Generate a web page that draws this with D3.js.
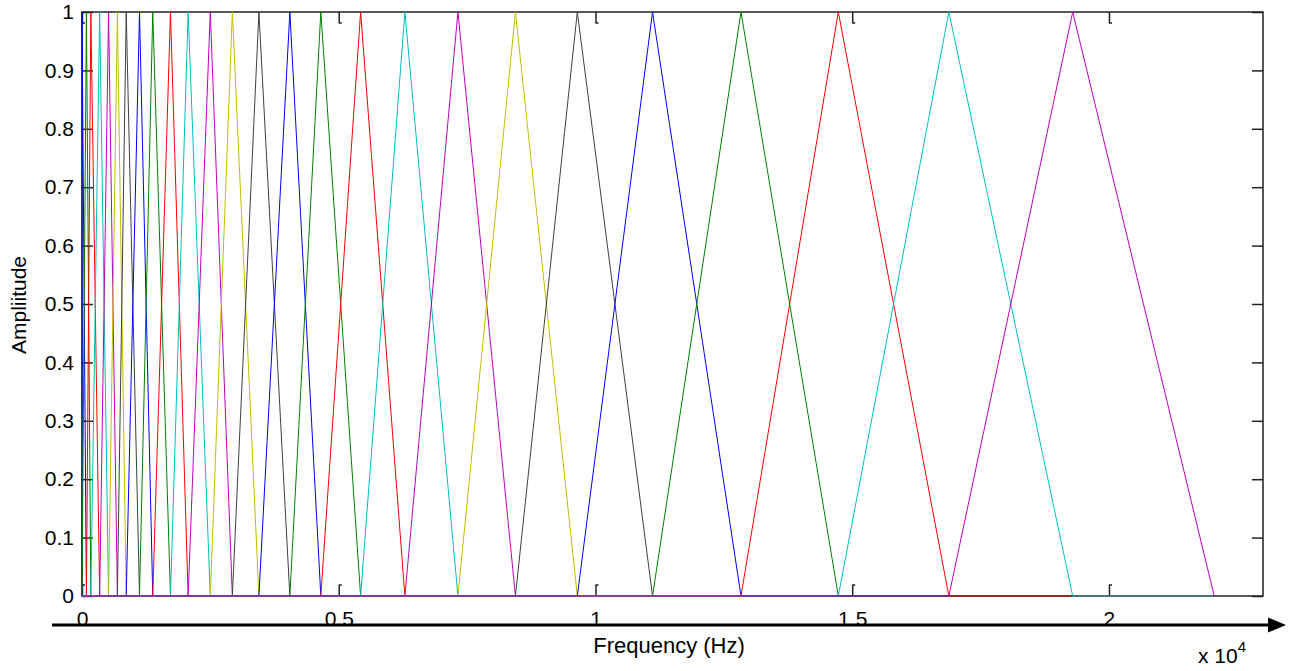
<!DOCTYPE html>
<html>
<head>
<meta charset="utf-8">
<script src="https://cdn.jsdelivr.net/npm/d3@7"></script>
<style>
    body { margin: 0; background: #fff; }
    text { font-family: "Liberation Sans", Arial, sans-serif; fill: #000; }
</style>
</head>
<body>
<div id="chart"></div>
<script>
// filter centre frequencies (Hz)
const centerFreqs = [0, 86, 172, 344, 517, 689, 861, 1120, 1378, 1723, 2067, 2498, 2928,
    3445, 4048, 4651, 5426, 6288, 7321, 8441, 9646, 11111, 12834, 14729, 16882, 19294];
const upperFreq = 22050; // right edge of the last filter / end of every curve
const xMax = 23000;
const colorOrder = ["#0000ff", "#008000", "#ff0000", "#00bfbf", "#bf00bf", "#bfbf00", "#404040"];
const xTicks = [0, 5000, 10000, 15000, 20000];
const xTickLabels = ["0", "0.5", "1", "1.5", "2"];
const yTicks = [0, 0.1, 0.2, 0.3, 0.4, 0.5, 0.6, 0.7, 0.8, 0.9, 1];

document.addEventListener("DOMContentLoaded", function () {
    const width = 1299, height = 671;
    const left = 82, right = 1263, top = 12, bottom = 596;
    const tick = 11;

    const svg = d3.select("#chart").append("svg")
        .attr("width", width)
        .attr("height", height);

    const x = d3.scaleLinear().domain([0, xMax]).range([left, right]);
    const y = d3.scaleLinear().domain([0, 1]).range([bottom, top]);

    // axes box
    svg.append("rect")
        .attr("x", left).attr("y", top)
        .attr("width", right - left).attr("height", bottom - top)
        .attr("fill", "none").attr("stroke", "#222").attr("stroke-width", 1.5);

    // y ticks + labels (ticks pointing inward)
    svg.append("g")
        .attr("transform", `translate(${left},0)`)
        .call(d3.axisLeft(y).tickValues(yTicks).tickSize(-tick).tickSizeOuter(0)
            .tickPadding(8).tickFormat(d3.format("~g")));
    svg.append("g")
        .attr("transform", `translate(${right},0)`)
        .call(d3.axisRight(y).tickValues(yTicks).tickSize(-tick).tickSizeOuter(0).tickFormat(""));

    // x ticks + labels, labels sit down by the arrow
    svg.append("g")
        .attr("transform", `translate(0,${bottom})`)
        .call(d3.axisBottom(x).tickValues(xTicks).tickSize(-tick).tickSizeOuter(0)
            .tickPadding(15).tickFormat((d, i) => xTickLabels[i]));
    svg.append("g")
        .attr("transform", `translate(0,${top})`)
        .call(d3.axisTop(x).tickValues(xTicks).tickSize(-tick).tickSizeOuter(0).tickFormat(""));

    svg.selectAll(".domain").remove();
    svg.selectAll(".tick line").attr("stroke", "#222").attr("stroke-width", 1.5);
    svg.selectAll(".tick text").attr("font-size", "21px").attr("font-family", null).attr("fill", "#000");

    // little feet on the x ticks
    svg.append("g").selectAll("path")
        .data(xTicks)
        .join("path")
        .attr("d", d => `M${x(d)},${top + tick}h3M${x(d)},${bottom - tick}h3`)
        .attr("stroke", "#222").attr("stroke-width", 1.5).attr("fill", "none");

    // triangular filters
    const line = d3.line().x(d => x(d[0])).y(d => y(d[1]));
    const filters = centerFreqs.map((c, i) => {
        const lo = i > 0 ? centerFreqs[i - 1] : 0;
        const hi = i < centerFreqs.length - 1 ? centerFreqs[i + 1] : upperFreq;
        return [[0, 0], [lo, 0], [c, 1], [hi, 0], [upperFreq, 0]];
    });
    svg.append("g").selectAll("path")
        .data(filters)
        .join("path")
        .attr("d", line)
        .attr("fill", "none")
        .attr("stroke", (d, i) => colorOrder[i % colorOrder.length])
        .attr("stroke-width", 1);

    // arrow under the x axis
    svg.append("line")
        .attr("x1", 52).attr("x2", 1272)
        .attr("y1", 625).attr("y2", 625)
        .attr("stroke", "#000").attr("stroke-width", 3);
    svg.append("path")
        .attr("d", "M1268,617.5L1286,625L1268,632.5Z")
        .attr("fill", "#000");

    // axis titles
    svg.append("text")
        .attr("x", 669).attr("y", 653)
        .attr("text-anchor", "middle")
        .attr("font-size", "22px")
        .text("Frequency (Hz)");

    svg.append("text")
        .attr("transform", "translate(26,305) rotate(-90)")
        .attr("text-anchor", "middle")
        .attr("font-size", "21px")
        .text("Ampliitude");

    // exponent label
    const expo = svg.append("text")
        .attr("x", 1198).attr("y", 663)
        .attr("font-size", "21px");
    expo.append("tspan").text("x 10");
    expo.append("tspan").attr("dy", -11).attr("font-size", "15px").text("4");
});
</script>
</body>
</html>
